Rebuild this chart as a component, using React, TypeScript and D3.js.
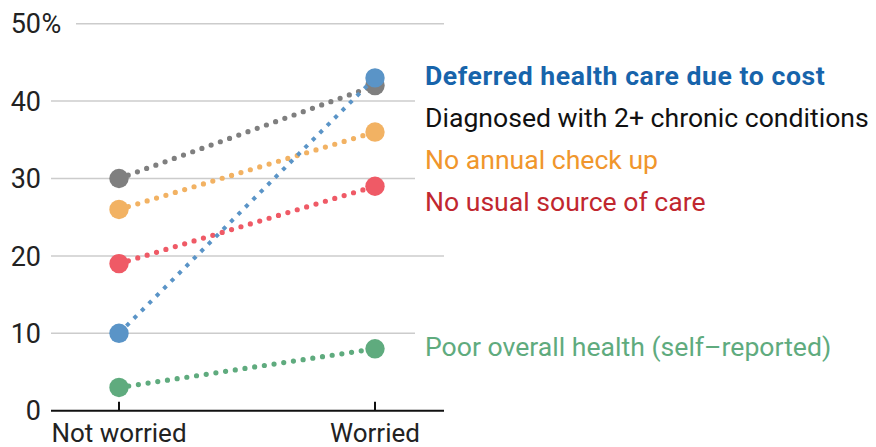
import React from "react";
import * as d3 from "d3";

const categories = ["Not worried", "Worried"];
const seriesNames = [
  "Diagnosed with 2+ chronic conditions",
  "No annual check up",
  "No usual source of care",
  "Poor overall health (self–reported)",
  "Deferred health care due to cost",
];
const notWorried = [30, 26, 19, 3, 10];
const worried = [42, 36, 29, 8, 43];
const yTicks = [0, 10, 20, 30, 40, 50];
const labelOrder = [4, 0, 1, 2, 3];

const pointColors = ["#7f7f7f", "#f2b263", "#ef5a66", "#5fab7e", "#5a94c7"];
const labelColors = ["#111111", "#f0962c", "#c1272f", "#5fab7e", "#1764ab"];

export default function App() {
  const W = 876, H = 447;
  const x = d3.scalePoint<string>().domain(categories).range([119, 375]);
  const y = d3.scaleLinear().domain([0, 50]).range([410.7, 23.7]);
  const labelX = 425;
  const font = "Roboto, 'Open Sans', sans-serif";

  const baselines: Record<number, number> = {};
  let prev = -Infinity;
  labelOrder.forEach((i) => {
    const b = Math.max(y(worried[i]) + 7.5, prev + 42);
    baselines[i] = b;
    prev = b;
  });

  const gridEnd = (t: number) => {
    const ty = y(t);
    const hit = labelOrder.some((i) => ty >= baselines[i] - 35 && ty <= baselines[i] + 10);
    return hit ? 415 : 444;
  };

  const line = d3.line<[number, number]>().x((d) => d[0]).y((d) => d[1]);

  return (
    <svg width={W} height={H} style={{ position: "absolute", left: 0, top: 0 }} fontFamily={font}>
      {yTicks.filter((t) => t > 0).map((t) => (
        <line key={t} x1={t === 50 ? 76 : 51} x2={gridEnd(t)} y1={y(t)} y2={y(t)} stroke="#cccccc" strokeWidth={1.5} />
      ))}
      {yTicks.map((t) => (
        <g key={"l" + t}>
          <text x={41} y={y(t)} dy="0.36em" textAnchor="end" fontSize={27} fill="#222">
            {t}
          </text>
          {t === 50 ? (
            <text x={41.5} y={y(t)} dy="0.36em" fontSize={27} fill="#222">%</text>
          ) : null}
        </g>
      ))}
      <line x1={51} x2={444} y1={y(0)} y2={y(0)} stroke="#111" strokeWidth={2} />
      {categories.map((c) => (
        <g key={c}>
          <line x1={x(c)} x2={x(c)} y1={y(0) - 9} y2={y(0)} stroke="#111" strokeWidth={2} />
          <text x={x(c)} y={442} textAnchor="middle" fontSize={26} fill="#222">{c}</text>
        </g>
      ))}
      {seriesNames.map((s, i) => {
        const pts: [number, number][] = [
          [x(categories[0])!, y(notWorried[i])],
          [x(categories[1])!, y(worried[i])],
        ];
        const isBlue = i === 4;
        return (
          <g key={s}>
            <path
              d={line(pts)!}
              fill="none"
              stroke={pointColors[i]}
              strokeWidth={isBlue ? 4 : 5.2}
              strokeLinecap={isBlue ? "butt" : "round"}
              strokeDasharray={isBlue ? "4 6.5" : "0 9.8"}
            />
            {pts.map((p, k) => (
              <circle key={k} cx={p[0]} cy={p[1]} r={9.7} fill={pointColors[i]} />
            ))}
          </g>
        );
      })}
      {labelOrder.map((i) => (
        <text
          key={"lab" + i}
          x={labelX}
          y={baselines[i]}
          fontSize={26.6}
          fill={labelColors[i]}
          fontWeight={i === 4 ? 700 : 400}
          letterSpacing={i === 4 ? 0.55 : 0}
        >
          {seriesNames[i]}
        </text>
      ))}
    </svg>
  );
}
